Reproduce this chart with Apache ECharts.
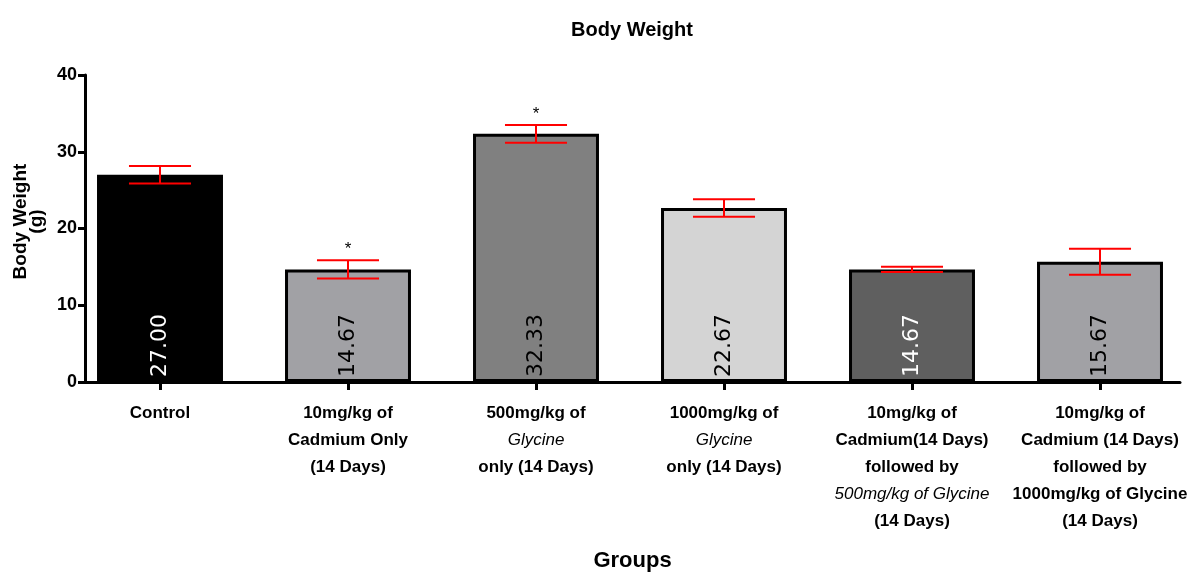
<!DOCTYPE html>
<html>
<head>
<meta charset="utf-8">
<script src="https://cdn.jsdelivr.net/npm/echarts@6/dist/echarts.min.js"></script>
<style>html,body{margin:0;padding:0;background:#fff}#c{width:1194px;height:579px}</style>
</head>
<body>
<div id="c"></div>
<script>
// ---- data ----
const categories = [
  'Control',
  '10mg/kg of\nCadmium Only\n(14 Days)',
  '500mg/kg of\nGlycine\nonly (14 Days)',
  '1000mg/kg of\nGlycine\nonly (14 Days)',
  '10mg/kg of\nCadmium(14 Days)\nfollowed by\n500mg/kg of Glycine\n(14 Days)',
  '10mg/kg of\nCadmium (14 Days)\nfollowed by\n1000mg/kg of Glycine\n(14 Days)'
];
const italicLines = ['Glycine', '500mg/kg of Glycine'];
const means = [27.00, 14.67, 32.33, 22.67, 14.67, 15.67];
const errors = [1.15, 1.2, 1.15, 1.15, 0.35, 1.7];
const significance = ['', '*', '*', '', '', ''];
const barColors = ['#000000', '#a1a1a5', '#808080', '#d4d4d4', '#5f5f5f', '#a1a1a5'];
const labelColors = ['#ffffff', '#000000', '#000000', '#000000', '#ffffff', '#000000'];
const yTicks = [0, 10, 20, 30, 40];

const FONT = "'Liberation Sans', Arial, sans-serif";
const chart = echarts.init(document.getElementById('c'));

const option = {
  animation: false,
  backgroundColor: '#fff',
  title: {
    text: 'Body Weight', left: 627, top: 15, textAlign: 'center',
    textStyle: { fontFamily: FONT, fontWeight: 'bold', fontSize: 20, color: '#000' }
  },
  grid: [
    { left: 66, right: -1, top: 75, bottom: 197 },
    { left: 85, right: 14, top: 75, bottom: 197 }
  ],
  xAxis: [
    {
      type: 'category', gridIndex: 0, data: categories,
      axisLine: { show: false },
      axisTick: { show: true, alignWithLabel: true, length: 8, lineStyle: { color: '#000', width: 3 } },
      axisLabel: {
        margin: 18, color: '#000', fontFamily: FONT, fontWeight: 'bold', fontSize: 17, lineHeight: 27,
        interval: 0,
        formatter: function (v) {
          return v.split('\n').map(l => italicLines.indexOf(l) >= 0 ? '{i|' + l + '}' : l).join('\n');
        },
        rich: { i: { fontFamily: FONT, fontStyle: 'italic', fontWeight: 'normal', fontSize: 17, lineHeight: 27, color: '#000' } }
      },
      splitLine: { show: false }
    },
    {
      type: 'value', gridIndex: 1, min: 0, max: 1,
      axisLine: { show: true, onZero: false, lineStyle: { color: '#000', width: 3 } },
      axisTick: { show: false }, axisLabel: { show: false }, splitLine: { show: false },
      name: 'Groups', nameLocation: 'middle', nameGap: 168,
      nameTextStyle: { fontFamily: FONT, fontWeight: 'bold', fontSize: 22, color: '#000' }
    }
  ],
  yAxis: [
    { type: 'value', gridIndex: 0, min: 0, max: 40, show: false, splitLine: { show: false } },
    {
      type: 'value', gridIndex: 1, min: yTicks[0], max: yTicks[yTicks.length - 1], interval: 10,
      axisLine: { show: true, lineStyle: { color: '#000', width: 3 } },
      axisTick: { show: true, length: 7, lineStyle: { color: '#000', width: 3 } },
      axisLabel: { margin: 8, color: '#000', fontFamily: FONT, fontWeight: 'bold', fontSize: 18 },
      splitLine: { show: false },
      name: 'Body Weight\n(g)', nameLocation: 'middle', nameGap: 36,
      nameTextStyle: { fontFamily: FONT, fontWeight: 'bold', fontSize: 19, lineHeight: 16, color: '#000', align: 'center', padding: [0, 0, 0, 14] }
    }
  ],
  series: [
    {
      type: 'bar', xAxisIndex: 0, yAxisIndex: 0, barWidth: '67%',
      data: means.map((v, i) => ({
        value: v,
        itemStyle: { color: barColors[i], borderColor: '#000', borderWidth: 3 },
        label: { color: labelColors[i] }
      })),
      label: {
        show: true, position: 'insideBottom', rotate: 90, align: 'left', verticalAlign: 'middle', distance: 5,
        fontFamily: "'DejaVu Sans', sans-serif", fontSize: 22,
        formatter: p => p.value.toFixed(2)
      }
    },
    {
      type: 'custom', xAxisIndex: 0, yAxisIndex: 0, z: 5,
      data: means.map((v, i) => [i, v, errors[i], significance[i]]),
      renderItem: function (params, api) {
        const x = api.value(0), m = api.value(1), e = api.value(2);
        const top = api.coord([x, m + e]);
        const bot = api.coord([x, m - e]);
        const half = api.size([1, 0])[0] * 0.165;
        const style = { stroke: '#ff0000', lineWidth: 2 };
        const children = [
          { type: 'line', shape: { x1: top[0], y1: top[1], x2: bot[0], y2: bot[1] }, style: style },
          { type: 'line', shape: { x1: top[0] - half, y1: top[1], x2: top[0] + half, y2: top[1] }, style: style },
          { type: 'line', shape: { x1: bot[0] - half, y1: bot[1], x2: bot[0] + half, y2: bot[1] }, style: style }
        ];
        const sig = significance[params.dataIndex];
        if (sig) {
          children.push({ type: 'text', x: top[0], y: top[1] - 2, style: { text: sig, fill: '#000', font: '17px "Liberation Sans", sans-serif', textAlign: 'center', textVerticalAlign: 'bottom' } });
        }
        return { type: 'group', children: children };
      }
    }
  ]
};
chart.setOption(option);
</script>
</body>
</html>
